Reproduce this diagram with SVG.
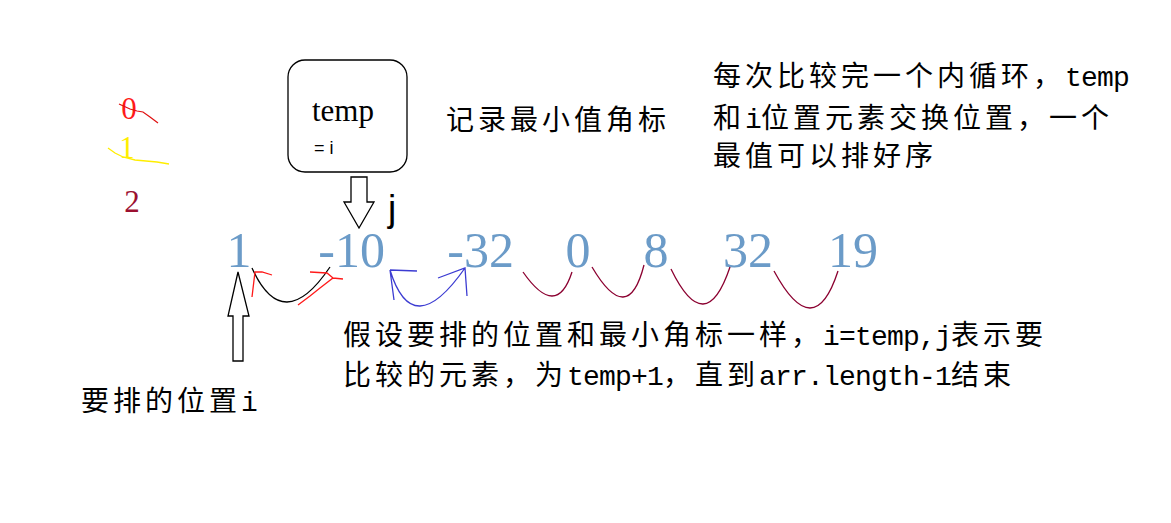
<svg xmlns="http://www.w3.org/2000/svg" width="1171" height="523" viewBox="0 0 1171 523">
<style>
.cn{font-family:'Liberation Mono','Noto Sans CJK SC',monospace;font-size:28px;fill:#000}
.c{letter-spacing:4px}
.l{letter-spacing:-0.8px}
.num{font-family:'Liberation Serif',serif;font-size:50px;fill:#6b9bc8;text-anchor:middle}
.idx{font-family:'Liberation Serif',serif;font-size:31px;text-anchor:middle}
.crv{fill:none;stroke-width:1.3}
.blk{fill:#fff;stroke:#000;stroke-width:1.3}
</style>
<rect width="1171" height="523" fill="#fff"/>
<g id="index-labels">
<text class="idx" x="129" y="119" fill="#ff1a1a">0</text>
<path d="M119,104 L130,109 L137,111 L143,112 L150,117 L158,123" fill="none" stroke="#e01010" stroke-width="1.2"/>
<text class="idx" x="127" y="158" fill="#ffee00">1</text>
<path d="M108,148 L115,153 L123,157 L135,160 L157,162 L169,164" fill="none" stroke="#ffee00" stroke-width="1.3"/>
<text class="idx" x="132" y="212" fill="#9b1030">2</text>
</g>
<g id="temp-box">
<rect class="blk" x="288" y="60" width="119" height="112" rx="17"/>
<text x="312" y="121" font-family="'Liberation Serif',serif" font-size="31" fill="#000">temp</text>
<text x="314" y="154" font-family="'Liberation Sans',sans-serif" font-size="18" fill="#000">= i</text>
</g>
<g id="label-min">
<text class="cn c" x="446" y="130">记录最小值角标</text>
</g>
<g id="label-swap">
<text class="cn" y="86"><tspan class="c" x="713">每次比较完一个内循环，</tspan><tspan class="l" x="1065">temp</tspan></text>
<text class="cn" y="128"><tspan class="c" x="713">和</tspan><tspan class="l" x="745">i</tspan><tspan class="c" x="761">位置元素交换位置，一个</tspan></text>
<text class="cn c" x="713" y="166">最值可以排好序</text>
</g>
<g id="label-j">
<text x="388" y="221" font-family="'Liberation Sans',sans-serif" font-size="37" fill="#000">j</text>
</g>
<g id="numbers">
<text class="num" x="239" y="267">1</text>
<text class="num" x="385" y="267" style="text-anchor:end">-10</text>
<text class="num" x="514" y="267" style="text-anchor:end">-32</text>
<text class="num" x="578" y="267">0</text>
<text class="num" x="656" y="267">8</text>
<text class="num" x="748" y="267">32</text>
<text class="num" x="853" y="267">19</text>
</g>
<g id="label-pos">
<text class="cn" y="411"><tspan class="c" x="81">要排的位置</tspan><tspan class="l" x="241">i</tspan></text>
</g>
<g id="label-desc">
<text class="cn" y="345"><tspan class="c" x="343">假设要排的位置和最小角标一样，</tspan><tspan class="l" x="823">i=temp,j</tspan><tspan class="c" x="951">表示要</tspan></text>
<text class="cn" y="385"><tspan class="c" x="343">比较的元素，为</tspan><tspan class="l" x="567">temp+1</tspan><tspan class="c" x="663">，直到</tspan><tspan class="l" x="759">arr.length-1</tspan><tspan class="c" x="951">结束</tspan></text>
</g>
<g id="connectors">
<polygon class="blk" points="351,177 367,177 367,202 374,202 359,228 344,202 351,202"/>
<polygon class="blk" points="238,272 249,316 243,316 243,361 233,361 233,316 228,316"/>
<path class="crv" stroke="#000" d="M252,268 Q283,336.5 330,267"/>
<path class="crv" stroke="#ff1a1a" d="M252,297 L255,272 L262,272 L272,275 M298,305 L310,296 L320,288 L333,278 L343,279 M310,272 L327,273 L333,278"/>
<path class="crv" stroke="#3c3cd2" d="M390,270 Q412.5,343 465,268 M390,270 L417,271 M390,270 L394,300 M438,278 L465,268 L467,296"/>
<path class="crv" stroke="#8b0030" d="M523,272 Q556.5,320 572,272 M592,267 Q628,328 644,265 M671,269 Q705.5,340 730,267 M774,271 Q814,345 838,271"/>
</g>
</svg>
